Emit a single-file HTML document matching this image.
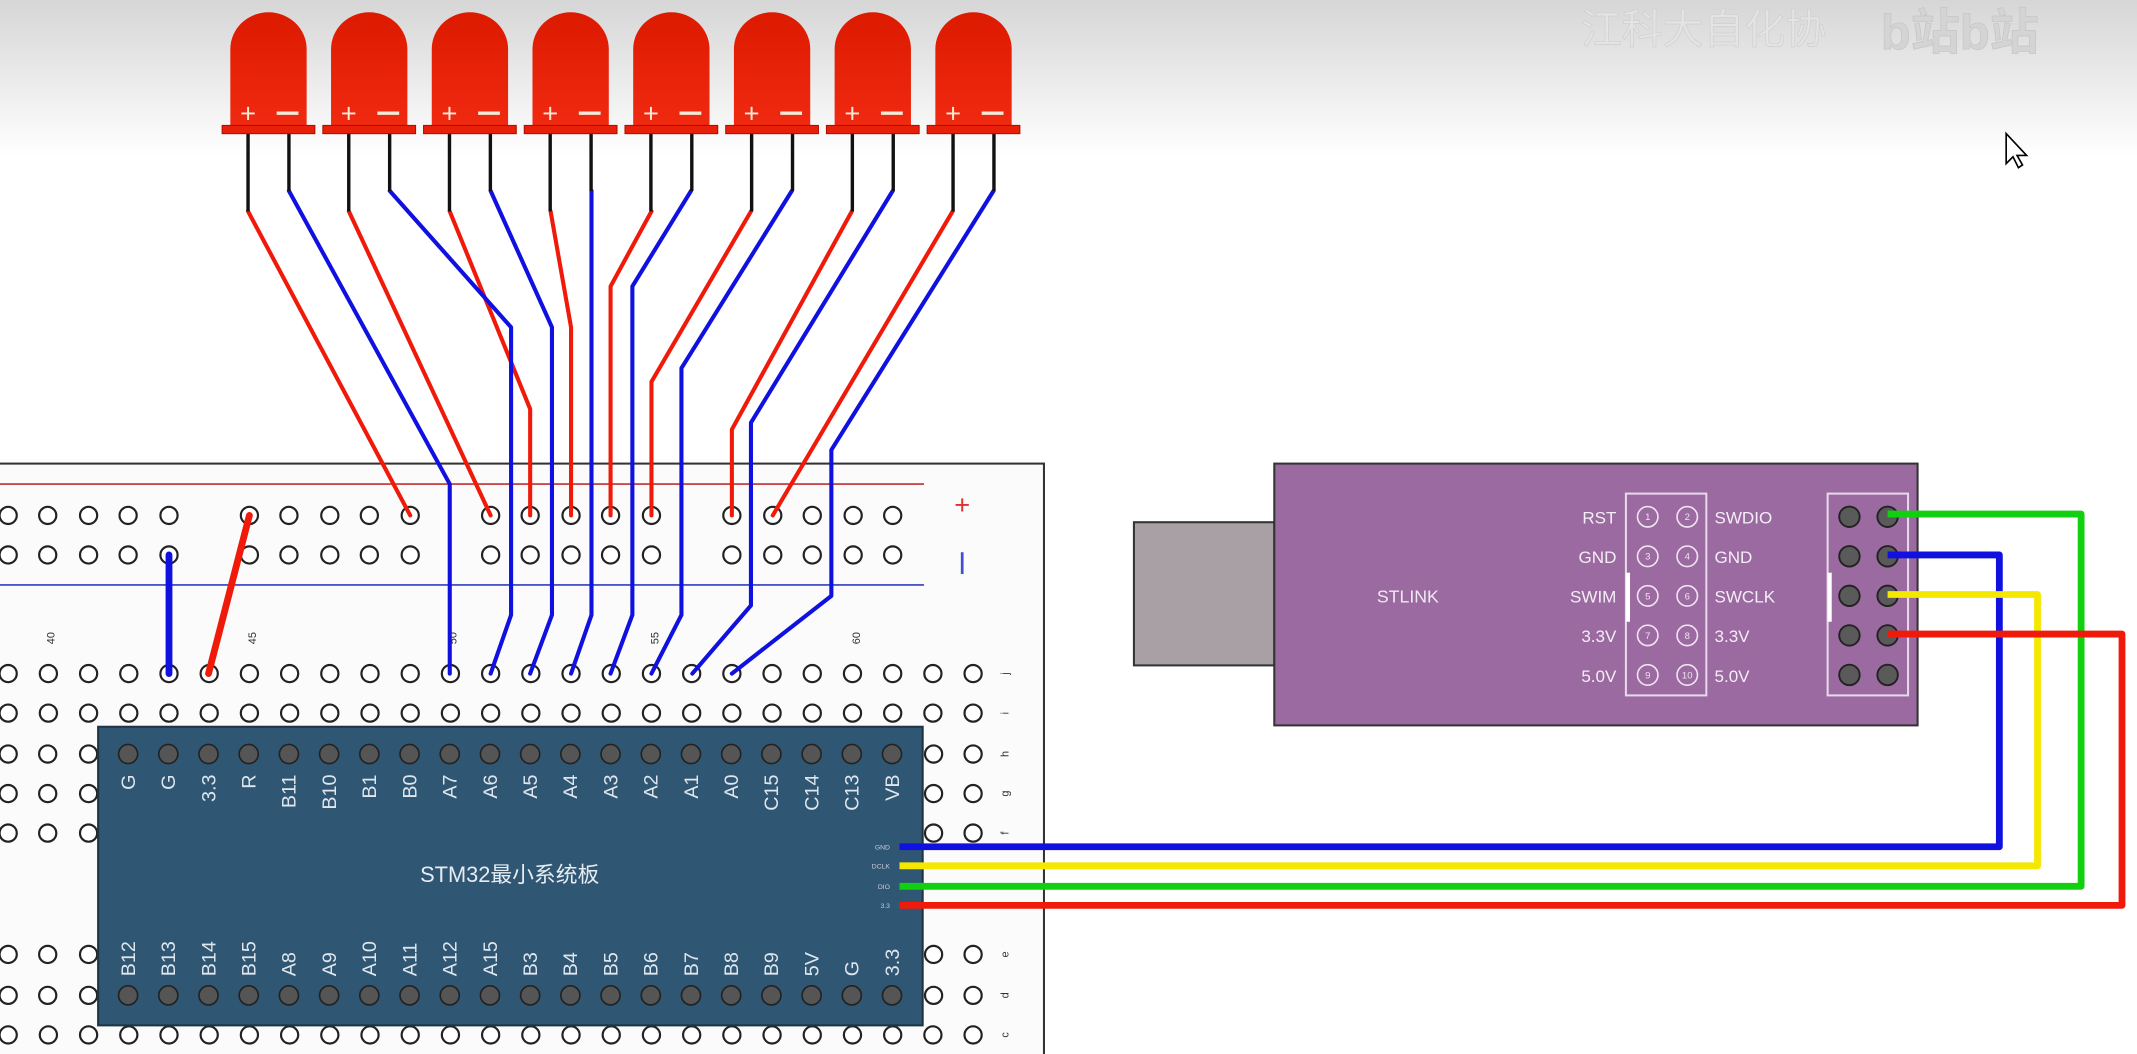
<!DOCTYPE html>
<html><head><meta charset="utf-8"><style>
html,body{margin:0;padding:0;background:#fff;}
svg{display:block;}
text{font-family:"Liberation Sans","Noto Sans CJK SC",sans-serif;}
</style></head><body>
<svg id="s" width="2137" height="1054" viewBox="0 0 1568 773" preserveAspectRatio="none" xmlns="http://www.w3.org/2000/svg">
<defs>
<linearGradient id="bg" x1="0" y1="0" x2="0" y2="1">
<stop offset="0" stop-color="#d6d6d6"/><stop offset="1" stop-color="#ffffff"/>
</linearGradient>
<linearGradient id="led" x1="0" y1="0" x2="0" y2="1">
<stop offset="0" stop-color="#dc1a00"/><stop offset="1" stop-color="#f02a10"/>
</linearGradient>
</defs>
<rect x="0" y="0" width="1568" height="773" fill="#fff"/>
<rect x="0" y="0" width="1568" height="115" fill="url(#bg)"/>
<text x="1160" y="32" font-size="30" fill="#e4e4e4" stroke="#cfcfcf" stroke-width="0.5">江科大自化协</text>
<text x="1380" y="36" font-size="36" font-weight="bold" fill="#d4d4d4" stroke="#c4c4c4" stroke-width="0.5">b站b站</text>
<path d="M1472,98 L1472,120 L1477,115 L1481,123 L1484,121 L1480,114 L1487,114 Z" fill="#fff" stroke="#000" stroke-width="1.2"/>

<rect x="-2" y="340" width="768" height="440" fill="#fbfbfb" stroke="#333" stroke-width="1.5"/>
<line x1="0" y1="355" x2="678" y2="355" stroke="#c03030" stroke-width="1.2"/>
<line x1="0" y1="429" x2="678" y2="429" stroke="#3040c0" stroke-width="1.2"/>
<text x="706" y="377" font-size="20" fill="#e03030" text-anchor="middle">+</text>
<line x1="706" y1="405" x2="706" y2="421" stroke="#4050d0" stroke-width="2"/>
<g id="holes"></g>
<g font-size="8" fill="#333">
<text transform="translate(40,468) rotate(-90)" text-anchor="middle">40</text>
<text transform="translate(188,468) rotate(-90)" text-anchor="middle">45</text>
<text transform="translate(335,468) rotate(-90)" text-anchor="middle">50</text>
<text transform="translate(483,468) rotate(-90)" text-anchor="middle">55</text>
<text transform="translate(631,468) rotate(-90)" text-anchor="middle">60</text>
</g>
<g font-size="8" fill="#333" text-anchor="middle">
<text transform="translate(740,494) rotate(-90)">j</text>
<text transform="translate(740,523) rotate(-90)">i</text>
<text transform="translate(740,553) rotate(-90)">h</text>
<text transform="translate(740,582) rotate(-90)">g</text>
<text transform="translate(740,611) rotate(-90)">f</text>
<text transform="translate(740,700) rotate(-90)">e</text>
<text transform="translate(740,730) rotate(-90)">d</text>
<text transform="translate(740,759) rotate(-90)">c</text>
</g>

<rect x="72" y="533" width="605" height="219" fill="#2f5672" stroke="#1e3446" stroke-width="1.5"/>
<g id="pins"></g>
<text x="374" y="647" font-size="16" fill="#e6ecf2" text-anchor="middle">STM32最小系统板</text>
<g font-size="5" fill="#ccd" text-anchor="end">
<text x="653" y="623">GND</text><text x="653" y="637">DCLK</text><text x="653" y="652">DIO</text><text x="653" y="666">3.3</text>
</g>

<g fill="none" stroke-width="3" stroke-linejoin="round" stroke-linecap="round">
<g stroke="#f01a0a">
<polyline points="182,155 301,378"/>
<polyline points="256,155 360,378"/>
<polyline points="330,155 389,300 389,378"/>
<polyline points="404,155 419,240 419,378"/>
<polyline points="478,155 448,210 448,378"/>
<polyline points="551,155 478,280 478,378"/>
<polyline points="625,155 537,315 537,378"/>
<polyline points="699,155 567,378"/>
</g>
<g stroke="#1010e0">
<polyline points="212,140 330,355 330,494"/>
<polyline points="286,140 375,240 375,451 360,494"/>
<polyline points="360,140 405,240 405,451 389,494"/>
<polyline points="434,140 434,451 419,494"/>
<polyline points="507,140 464,210 464,451 448,494"/>
<polyline points="581,140 500,270 500,451 478,494"/>
<polyline points="655,140 551,310 551,444 508,494"/>
<polyline points="729,140 610,330 610,437 537,494"/>
</g>
<line x1="124" y1="407" x2="124" y2="494" stroke="#1010e0" stroke-width="5"/>
<line x1="183" y1="378" x2="153" y2="494" stroke="#f01a0a" stroke-width="5"/>
</g>
<g id="leds"></g>

<rect x="832" y="383" width="103" height="105" fill="#a8a0a4" stroke="#333" stroke-width="1.5"/>
<rect x="935" y="340" width="472" height="192" fill="#9b6aa0" stroke="#333" stroke-width="1.5"/>
<text x="1033" y="442" font-size="13" fill="#f0e8f2" text-anchor="middle">STLINK</text>
<rect x="1193" y="362" width="59" height="148" fill="none" stroke="#e8d8ec" stroke-width="1.5"/>
<rect x="1193" y="420" width="3" height="36" fill="#fff"/>
<rect x="1341" y="362" width="59" height="148" fill="none" stroke="#e8d8ec" stroke-width="1.5"/>
<rect x="1341" y="420" width="3" height="36" fill="#fff"/>
<g font-size="12.5" fill="#f4eef6">
<g text-anchor="end">
<text x="1186" y="384">RST</text><text x="1186" y="413">GND</text><text x="1186" y="442">SWIM</text><text x="1186" y="471">3.3V</text><text x="1186" y="500">5.0V</text>
</g>
<text x="1258" y="384">SWDIO</text><text x="1258" y="413">GND</text><text x="1258" y="442">SWCLK</text><text x="1258" y="471">3.3V</text><text x="1258" y="500">5.0V</text>
</g>
<g id="stl"></g>

<g fill="none" stroke-width="5" stroke-linejoin="round">
<polyline points="660,621 1467,621 1467,407 1385,407" stroke="#1010e0"/>
<polyline points="660,635 1495,635 1495,436 1385,436" stroke="#f5e800"/>
<polyline points="660,650 1527,650 1527,377 1385,377" stroke="#10d010"/>
<polyline points="660,664 1557,664 1557,465 1385,465" stroke="#f01a0a"/>
</g>
</svg>
<script>
(function(){
var NS="http://www.w3.org/2000/svg";
function el(p,t,a,txt){var e=document.createElementNS(NS,t);for(var k in a)e.setAttribute(k,a[k]);if(txt!=null)e.textContent=txt;p.appendChild(e);return e;}
var H=document.getElementById("holes");
function hole(x,y){el(H,"circle",{cx:x,cy:y,r:6.3,fill:"#fff",stroke:"#222","stroke-width":1.6});}
var rail=[6,35,65,94,124,183,212,242,271,301,360,389,419,448,478,537,567,596,626,655];
rail.forEach(function(x){hole(x,378);hole(x,407);});
var cols=[];for(var i=0;i<25;i++)cols.push(6+i*29.5);
[494,523,759].forEach(function(y){cols.forEach(function(x){hole(x,y);});});
[553,582,611,700,730].forEach(function(y){[6,35,65,685,714].forEach(function(x){hole(x,y);});});
var P=document.getElementById("pins");
var topL=["G","G","3.3","R","B11","B10","B1","B0","A7","A6","A5","A4","A3","A2","A1","A0","C15","C14","C13","VB"];
var botL=["B12","B13","B14","B15","A8","A9","A10","A11","A12","A15","B3","B4","B5","B6","B7","B8","B9","5V","G","3.3"];
for(var i=0;i<20;i++){var x=94+i*29.5;
el(P,"circle",{cx:x,cy:553,r:7,fill:"#555",stroke:"#222","stroke-width":1.2});
el(P,"circle",{cx:x,cy:730,r:7,fill:"#555",stroke:"#222","stroke-width":1.2});
el(P,"text",{transform:"translate("+(x+5)+",568) rotate(-90)","font-size":14.5,fill:"#dfe6ee","text-anchor":"end"},topL[i]);
el(P,"text",{transform:"translate("+(x+5)+",716) rotate(-90)","font-size":14.5,fill:"#dfe6ee","text-anchor":"start"},botL[i]);}
var L=document.getElementById("leds");
for(var i=0;i<8;i++){var c=197+i*73.9;
el(L,"line",{x1:c-15,y1:97,x2:c-15,y2:155,stroke:"#111","stroke-width":2.5});
el(L,"line",{x1:c+15,y1:97,x2:c+15,y2:140,stroke:"#111","stroke-width":2.5});
el(L,"path",{d:"M"+(c-28)+",93 L"+(c-28)+",36 A28,27 0 0 1 "+(c+28)+",36 L"+(c+28)+",93 Z",fill:"url(#led)"});
el(L,"rect",{x:c-34,y:92,width:68,height:6,fill:"#e8200a",stroke:"#b01000","stroke-width":0.8});
el(L,"text",{x:c-15,y:90,"font-size":20,fill:"#f4e8d8","text-anchor":"middle"},"+");
el(L,"line",{x1:c+6,y1:83,x2:c+22,y2:83,stroke:"#f4e8d8","stroke-width":2.5});}
var S=document.getElementById("stl");
for(var r=0;r<5;r++){var y=379+r*29;
el(S,"circle",{cx:1209,cy:y,r:7.5,fill:"none",stroke:"#f0e4f2","stroke-width":1.2});
el(S,"circle",{cx:1238,cy:y,r:7.5,fill:"none",stroke:"#f0e4f2","stroke-width":1.2});
el(S,"text",{x:1209,y:y+2.5,"font-size":7,fill:"#f0e4f2","text-anchor":"middle"},String(r*2+1));
el(S,"text",{x:1238,y:y+2.5,"font-size":7,fill:"#f0e4f2","text-anchor":"middle"},String(r*2+2));
el(S,"circle",{cx:1357,cy:y,r:7.5,fill:"#5a5a5a",stroke:"#222","stroke-width":1.4});
el(S,"circle",{cx:1385,cy:y,r:7.5,fill:"#5a5a5a",stroke:"#222","stroke-width":1.4});}
})();
</script>
</body></html>
